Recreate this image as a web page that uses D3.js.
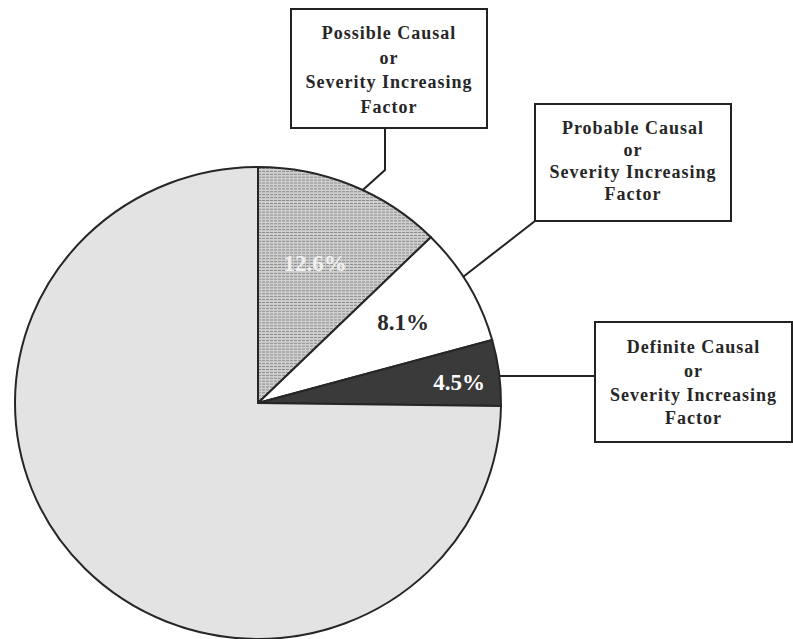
<!DOCTYPE html>
<html>
<head>
<meta charset="utf-8">
<script src="https://cdn.jsdelivr.net/npm/d3@7"></script>
<style>
  body { margin: 0; background: #fff; }
  svg { display: block; }
</style>
</head>
<body>
<div id="chart"></div>
<script>
// chart data
var categories = ["Possible", "Probable", "Definite", "Other"];
var values = [12.6, 8.1, 4.5, 74.8];
var valueLabels = ["12.6%", "8.1%", "4.5%", ""];
var boxLines = [
    ["Possible Causal", "or", "Severity Increasing", "Factor"],
    ["Probable Causal", "or", "Severity Increasing", "Factor"],
    ["Definite Causal", "or", "Severity Increasing", "Factor"]
];

var width = 793, height = 639;
var cx = 258, cy = 403, rx = 243, ry = 236;

var svg = d3.select("#chart")
    .append("svg")
    .attr("width", width)
    .attr("height", height);

// texture for the "possible" slice
var defs = svg.append("defs");
var pat = defs.append("pattern")
    .attr("id", "dots")
    .attr("patternUnits", "userSpaceOnUse")
    .attr("width", 4)
    .attr("height", 3);
pat.append("rect").attr("width", 4).attr("height", 3).attr("fill", "#cfcfcf");
pat.append("rect").attr("x", 0).attr("y", 1).attr("width", 3).attr("height", 1).attr("fill", "#888");

var fills = ["url(#dots)", "#ffffff", "#3a3a3a", "#e3e3e3"];
var labelColors = ["#f0f0f0", "#2a2a2a", "#ffffff", "#000"];

var pie = d3.pie().sort(null).value(d => d)(values);
var arc = d3.arc().innerRadius(0).outerRadius(rx);

// the pie is slightly squashed vertically
var g = svg.append("g")
    .attr("transform", "translate(" + cx + "," + cy + ") scale(1," + (ry / rx) + ")");

g.selectAll("path")
    .data(pie)
    .enter()
    .append("path")
    .attr("d", arc)
    .attr("fill", (d, i) => fills[i])
    .attr("stroke", "#262626")
    .attr("stroke-width", 2)
    .attr("vector-effect", "non-scaling-stroke");

// percentage labels
var labelPos = [[315, 263], [403, 322], [459, 382]];
svg.selectAll("text.pct")
    .data(pie.slice(0, 3))
    .enter()
    .append("text")
    .attr("class", "pct")
    .attr("x", (d, i) => labelPos[i][0])
    .attr("y", (d, i) => labelPos[i][1])
    .attr("dy", "0.35em")
    .attr("text-anchor", "middle")
    .attr("font-family", "Liberation Serif, serif")
    .attr("font-weight", "bold")
    .attr("font-size", "23px")
    .attr("fill", (d, i) => labelColors[i])
    .text((d, i) => valueLabels[i]);

// point on the pie edge at the middle of a slice
function edgePoint(d, shift) {
    var a = (d.startAngle + d.endAngle) / 2 + (shift || 0);
    return [cx + rx * Math.sin(a), cy - ry * Math.cos(a)];
}

// label boxes
var boxes = [
    {x: 291, y: 9, w: 196, h: 119, lineY: [33, 58, 82, 107]},
    {x: 535, y: 104, w: 196, h: 117, lineY: [128, 150, 172, 194]},
    {x: 595, y: 322, w: 197, h: 120, lineY: [347, 371, 395, 418]}
];

boxes.forEach((b, i) => {
    svg.append("rect")
        .attr("x", b.x)
        .attr("y", b.y)
        .attr("width", b.w)
        .attr("height", b.h)
        .attr("fill", "#fff")
        .attr("stroke", "#222")
        .attr("stroke-width", 2);

    svg.selectAll("text.box" + i)
        .data(boxLines[i])
        .enter()
        .append("text")
        .attr("class", "box" + i)
        .attr("x", b.x + b.w / 2)
        .attr("y", (d, j) => b.lineY[j])
        .attr("dy", "0.35em")
        .attr("text-anchor", "middle")
        .attr("font-family", "Liberation Serif, serif")
        .attr("font-weight", "bold")
        .attr("font-size", "18px")
        .attr("letter-spacing", "1px")
        .attr("fill", "#262626")
        .text(d => d);
});

// leader lines from boxes to slices
var p0 = edgePoint(pie[0], 0.05);
var p1 = edgePoint(pie[1], -0.04);

var leaders = [
    [[385, 128], [385, 170], p0],
    [[535, 221], p1],
    [[595, 376], [cx + rx * Math.sin(Math.acos((cy - 376) / ry)), 376]]
];

svg.selectAll("path.leader")
    .data(leaders)
    .enter()
    .append("path")
    .attr("class", "leader")
    .attr("d", d3.line())
    .attr("fill", "none")
    .attr("stroke", "#222")
    .attr("stroke-width", 2);
</script>
</body>
</html>
